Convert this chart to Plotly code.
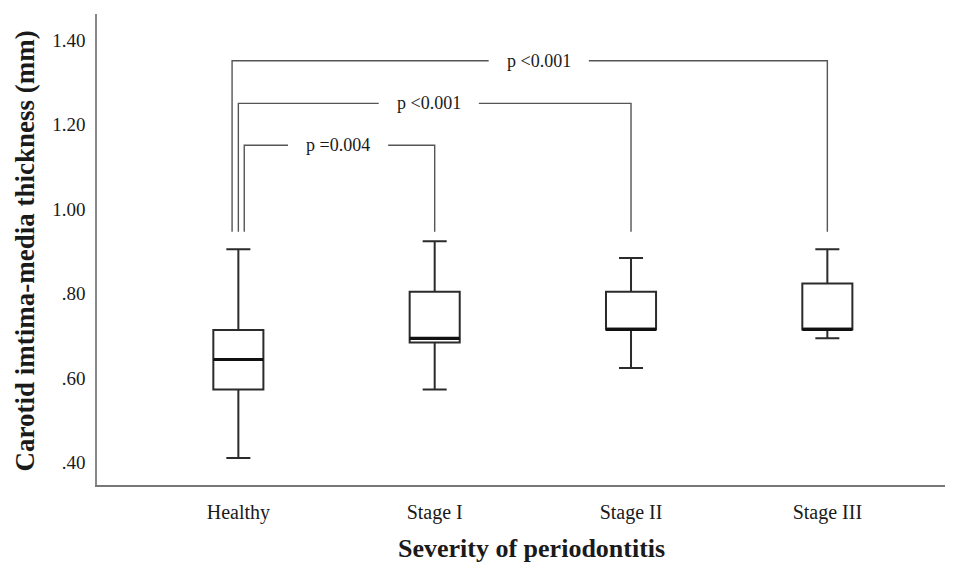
import plotly.graph_objects as go

# ---- data ----
categories = ["Healthy", "Stage I", "Stage II", "Stage III"]
lower_whisker = [0.411, 0.573, 0.624, 0.694]
q1_values = [0.573, 0.684, 0.715, 0.715]
median_values = [0.644, 0.694, 0.715, 0.715]
q3_values = [0.714, 0.804, 0.804, 0.824]
upper_whisker = [0.905, 0.924, 0.884, 0.905]

y_tick_values = [0.40, 0.60, 0.80, 1.00, 1.20, 1.40]
y_tick_labels = [".40", ".60", ".80", "1.00", "1.20", "1.40"]

comparison_pairs = [(0, 1), (0, 2), (0, 3)]
comparison_labels = ["p =0.004", "p <0.001", "p <0.001"]
comparison_heights = [1.151, 1.250, 1.351]
comparison_leg_bottom = 0.946

# ---- layout / style constants ----
positions = list(range(len(categories)))
BOX_W = 0.255
left_leg_offsets = [0.03, 0.0, -0.032]
label_centers = [0.508, 0.97, 1.53]
label_half_gap = 0.255
FONT = "Liberation Serif"
TXT = "#1a1a1a"

fig = go.Figure()

fig.add_trace(go.Box(
    x=positions,
    q1=q1_values, median=median_values, q3=q3_values,
    lowerfence=lower_whisker, upperfence=upper_whisker,
    width=BOX_W, whiskerwidth=0.48,
    fillcolor="white",
    line=dict(color="#2b2b2b", width=2),
    boxpoints=False, showlegend=False, hoverinfo="skip",
))

# thicker median lines
mx, my = [], []
for p, m in zip(positions, median_values):
    mx += [p - BOX_W / 2, p + BOX_W / 2, None]
    my += [m, m, None]
fig.add_trace(go.Scatter(x=mx, y=my, mode="lines",
                         line=dict(color="#111111", width=3.2),
                         showlegend=False, hoverinfo="skip"))

# comparison brackets with a gap for the label
bx, by = [], []
for (a, b), h, off, c in zip(comparison_pairs, comparison_heights,
                             left_leg_offsets, label_centers):
    xa = positions[a] + off
    xb = positions[b]
    bx += [xa, xa, c - label_half_gap, None, c + label_half_gap, xb, xb, None]
    by += [comparison_leg_bottom, h, h, None, h, h, comparison_leg_bottom, None]
fig.add_trace(go.Scatter(x=bx, y=by, mode="lines",
                         line=dict(color="#555555", width=1.4),
                         showlegend=False, hoverinfo="skip"))

for lbl, h, c in zip(comparison_labels, comparison_heights, label_centers):
    fig.add_annotation(x=c, y=h, text=lbl, showarrow=False,
                       font=dict(family=FONT, size=18, color=TXT),
                       xanchor="center", yanchor="middle")

# axis titles
fig.add_annotation(xref="paper", yref="paper", x=-0.084, y=0.496,
                   text="<b>Carotid imtima-media thickness (mm)</b>",
                   textangle=-90, showarrow=False,
                   font=dict(family=FONT, size=27, color=TXT),
                   xanchor="center", yanchor="middle")
fig.add_annotation(xref="paper", yref="paper", x=0.508, y=-0.134,
                   text="<b>Severity of periodontitis</b>",
                   showarrow=False,
                   font=dict(family=FONT, size=26, color=TXT),
                   xanchor="center", yanchor="middle")

# page has an 8px body margin, so the figure is 8px smaller than the window
fig.update_layout(
    width=945, height=556,
    margin=dict(l=89, r=0, t=6, b=79),
    paper_bgcolor="white", plot_bgcolor="white",
    font=dict(family=FONT, color=TXT),
    xaxis=dict(
        range=[-0.72, 3.64],
        tickmode="array", tickvals=positions, ticktext=categories,
        showgrid=False, zeroline=False, ticks="",
        showline=True, linecolor="#777777", linewidth=2,
        tickfont=dict(family=FONT, size=20, color=TXT),
        ticklabelstandoff=8,
    ),
    yaxis=dict(
        range=[0.347, 1.4615],
        tickmode="array", tickvals=y_tick_values, ticktext=y_tick_labels,
        showgrid=False, zeroline=False, ticks="",
        showline=True, linecolor="#888888", linewidth=1.5,
        tickfont=dict(family=FONT, size=19, color=TXT),
        ticklabelstandoff=6,
    ),
)

fig.write_html("out.html")
